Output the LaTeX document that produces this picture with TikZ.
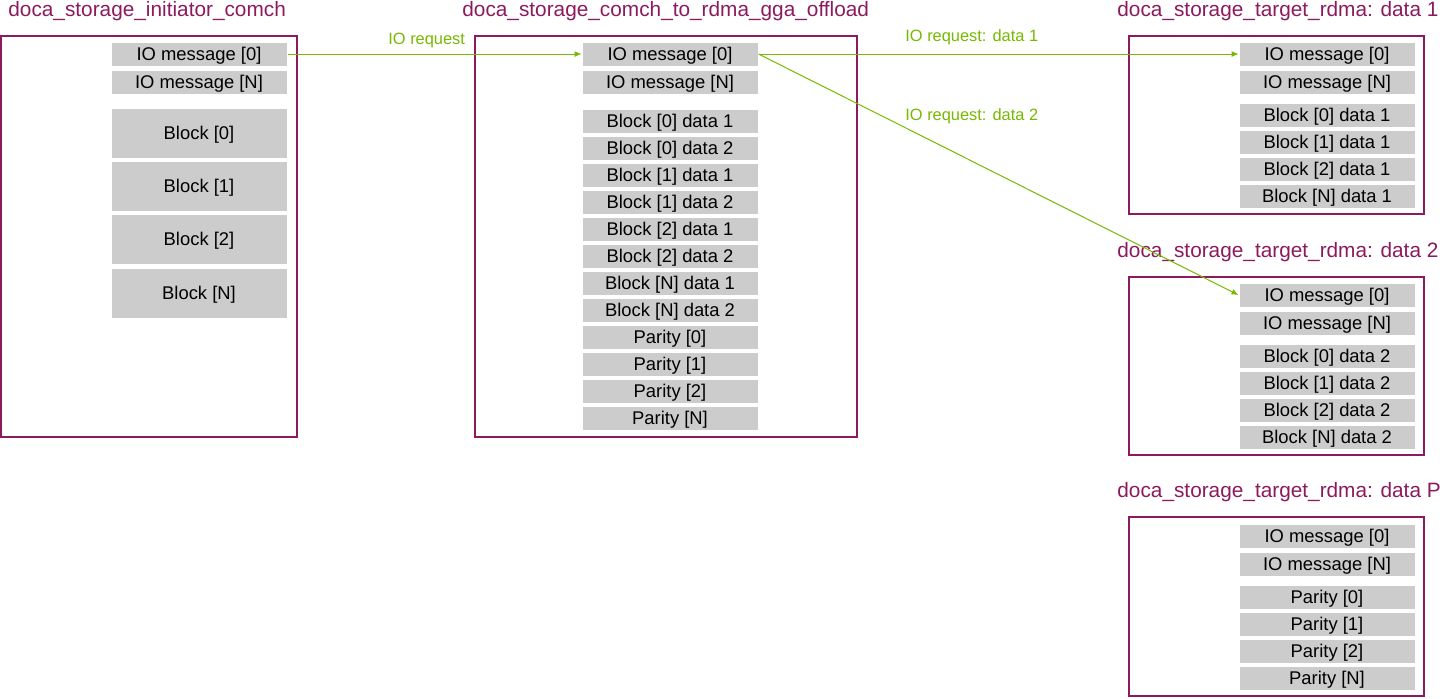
\documentclass[tikz,border=0pt]{standalone}
\usepackage{fontspec}
\setmainfont{Liberation Sans}
\usetikzlibrary{arrows.meta}
\definecolor{boxmag}{HTML}{8C1A5E}
\definecolor{reqgreen}{HTML}{76B900}
\definecolor{cellgray}{HTML}{CCCCCC}
\tikzset{
  frame/.style={draw=boxmag, line width=1pt},
  title/.style={anchor=base west, inner sep=0pt, text=boxmag, font=\fontsize{10.4}{12}\selectfont},
  cell/.style={fill=cellgray, draw=white, line width=0.5pt, minimum width=88pt, minimum height=12pt, inner sep=0pt, text height=6.4pt, text depth=0pt, font=\fontsize{9.2}{11}\selectfont},
  bigcell/.style={cell, minimum height=25pt},
  req/.style={draw=reqgreen, line width=0.5pt, -{Latex[length=3.5pt,width=3pt]}},
  reqlabel/.style={anchor=base west, inner sep=0pt, text=reqgreen, font=\fontsize{8.2}{10}\selectfont},
}
\begin{document}
\begin{tikzpicture}[x=0.5pt, y=-0.5pt]
			%%%%% START %%%%%
			\useasboundingbox (0, 0) rectangle (1440, 698);
			
			% initiator
			\node[title] (tinit) at (8, 16) {doca\_storage\_initiator\_comch};
			\draw[frame] (1, 36) rectangle (297, 437);
			\node[cell] (i0) at (199, 54) {IO message [0]};
			\node[cell] (iN) at (199, 82) {IO message [N]};
			\node[bigcell] (ib0) at (199, 133.5) {Block [0]};
			\node[bigcell] (ib1) at (199, 186.5) {Block [1]};
			\node[bigcell] (ib2) at (199, 239.5) {Block [2]};
			\node[bigcell] (ibN) at (199, 293) {Block [N]};
			
			% offload
			\node[title] (toff) at (462, 16) {doca\_storage\_comch\_to\_rdma\_gga\_offload};
			\draw[frame] (475, 36) rectangle (857, 437);
			\node[cell] (g0) at (670, 54) {IO message [0]};
			\node[cell] (gN) at (670, 82) {IO message [N]};
			\node[cell] (g01) at (670, 121) {Block [0] data 1};
			\node[cell] (g02) at (670, 148) {Block [0] data 2};
			\node[cell] (g11) at (670, 175) {Block [1] data 1};
			\node[cell] (g12) at (670, 202) {Block [1] data 2};
			\node[cell] (g21) at (670, 229) {Block [2] data 1};
			\node[cell] (g22) at (670, 256) {Block [2] data 2};
			\node[cell] (gN1) at (670, 283) {Block [N] data 1};
			\node[cell] (gN2) at (670, 310) {Block [N] data 2};
			\node[cell] (gp0) at (670, 337) {Parity [0]};
			\node[cell] (gp1) at (670, 364) {Parity [1]};
			\node[cell] (gp2) at (670, 391) {Parity [2]};
			\node[cell] (gpN) at (670, 418) {Parity [N]};
			
			% target data 1
			\node[title] (ta) at (1117, 16) {doca\_storage\_target\_rdma: data 1};
			\draw[frame] (1129, 36) rectangle (1424, 214);
			\node[cell] (a0) at (1327, 54) {IO message [0]};
			\node[cell] (aN) at (1327, 82) {IO message [N]};
			\node[cell] (ab0) at (1327, 115) {Block [0] data 1};
			\node[cell] (ab1) at (1327, 142) {Block [1] data 1};
			\node[cell] (ab2) at (1327, 169) {Block [2] data 1};
			\node[cell] (abN) at (1327, 196) {Block [N] data 1};
			
			% target data 2
			\node[title] (tb) at (1117, 257) {doca\_storage\_target\_rdma: data 2};
			\draw[frame] (1129, 277) rectangle (1424, 455);
			\node[cell] (b0) at (1327, 295) {IO message [0]};
			\node[cell] (bN) at (1327, 323) {IO message [N]};
			\node[cell] (bb0) at (1327, 356) {Block [0] data 2};
			\node[cell] (bb1) at (1327, 383) {Block [1] data 2};
			\node[cell] (bb2) at (1327, 410) {Block [2] data 2};
			\node[cell] (bbN) at (1327, 437) {Block [N] data 2};
			
			% target data P
			\node[title] (tp) at (1117, 497) {doca\_storage\_target\_rdma: data P};
			\draw[frame] (1129, 517) rectangle (1424, 696);
			\node[cell] (p0) at (1327, 536) {IO message [0]};
			\node[cell] (pN) at (1327, 564) {IO message [N]};
			\node[cell] (pp0) at (1327, 597) {Parity [0]};
			\node[cell] (pp1) at (1327, 624) {Parity [1]};
			\node[cell] (pp2) at (1327, 651) {Parity [2]};
			\node[cell] (ppN) at (1327, 678) {Parity [N]};
			
			% requests
			\draw[req] (i0.east) -- (g0.west);
			\draw[req] (g0.east) -- (a0.west);
			\draw[req] (g0.east) -- (b0.west);
			\node[reqlabel] (lreq) at (388, 44) {IO request};
			\node[reqlabel] (lreqa) at (905, 41) {IO request: data 1};
			\node[reqlabel] (lreqb) at (905, 120) {IO request: data 2};
			
			%%%%% END %%%%%
		\end{tikzpicture}
\end{document}
